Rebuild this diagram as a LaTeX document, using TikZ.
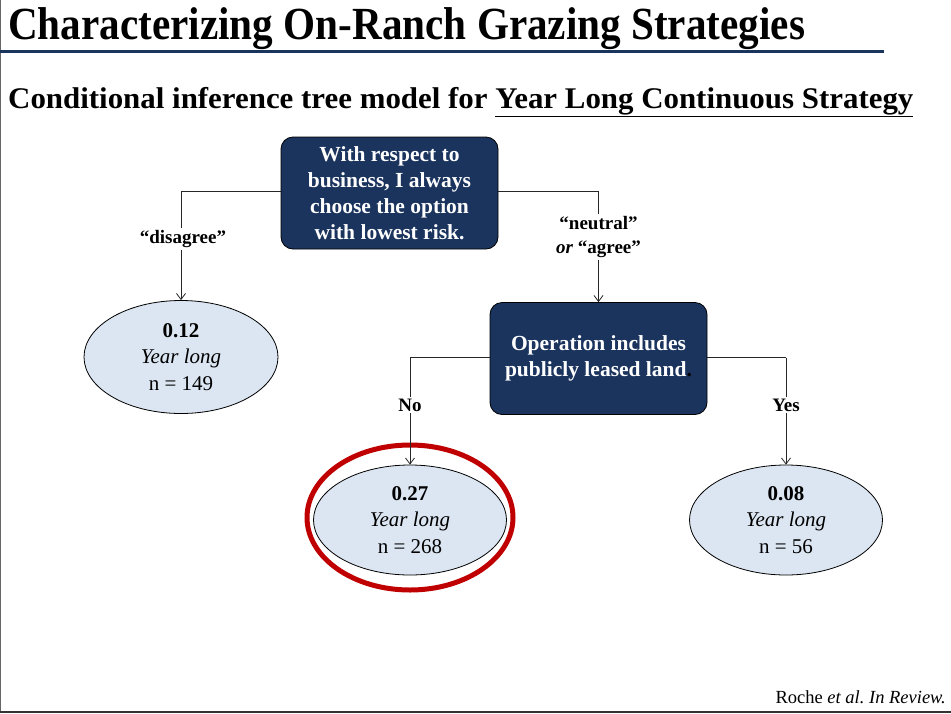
\documentclass[tikz,border=0pt]{standalone}
\usepackage{fontspec}
\setmainfont{Liberation Serif}
\newfontfamily\titlefont[FakeStretch=0.895]{Liberation Serif}
\newfontfamily\subfont[FakeStretch=1.03]{Liberation Serif}
\usetikzlibrary{arrows.meta,shapes.geometric}
\definecolor{navy}{RGB}{26,52,94}
\definecolor{leaf}{RGB}{220,230,242}
\definecolor{ringred}{RGB}{192,0,0}
\tikzset{
  qbox/.style={draw=black, line width=0.8pt, fill=navy, rounded corners=12pt, text=white, font=\bfseries\fontsize{21.5}{25.8}\selectfont, align=center, minimum width=217pt, minimum height=112pt, inner sep=0pt},
  leafnode/.style={draw=black, line width=0.8pt, fill=leaf, ellipse, minimum width=193pt, minimum height=110pt, inner sep=0pt, align=center, font=\fontsize{21}{26.5}\selectfont},
  conn/.style={line width=0.8pt, draw=black!85},
  arr/.style={conn, -{Straight Barb[length=6pt,width=9pt]}},
  lbl/.style={fill=white, font=\bfseries\fontsize{19}{24}\selectfont, align=center, inner sep=2pt}
}
\begin{document}
\begin{tikzpicture}[x=1pt,y=-1pt]
\useasboundingbox (0,0) rectangle (951,713);
\fill[white] (0,0) rectangle (951,713);
\draw[black!60, line width=2pt] (0,0) -- (0,713);
\draw[black!80, line width=2.5pt] (0,712) -- (951,712);
% title
\node[anchor=base west, inner sep=0pt, font=\titlefont\bfseries\fontsize{46}{50}\selectfont] (title) at (8,39) {Characterizing On-Ranch Grazing Strategies};
\draw[navy, line width=3pt] (0,51.5) -- (884,51.5);
\node[anchor=base west, inner sep=0pt, font=\subfont\bfseries\fontsize{30}{34}\selectfont] (sub) at (8,108) {Conditional inference tree model for \underline{Year Long Continuous Strategy}};
% nodes
\node[qbox] (q1) at (389.5,193) {With respect to\\business, I always\\choose the option\\with lowest risk.};
\node[qbox] (q2) at (598.5,358.5) {Operation includes\\publicly leased land{\color{black}.}};
\node[leafnode, minimum width=194pt, minimum height=113pt] (l1) at (181,357) {\textbf{0.12}\\\textit{Year long}\\n = 149};
\node[leafnode] (l2) at (410,520) {\textbf{0.27}\\\textit{Year long}\\n = 268};
\node[leafnode] (l3) at (786,520) {\textbf{0.08}\\\textit{Year long}\\n = 56};
\node[draw=ringred, line width=5pt, ellipse, minimum width=206pt, minimum height=145pt, inner sep=0pt] (ring) at (410,517.5) {};
% connectors
\coordinate (c1) at (181,191.5);
\coordinate (c2) at (598.5,191.5);
\coordinate (c3) at (410,357.5);
\coordinate (c4) at (786,357.5);
\draw[conn] (q1.west |- c1) -- (c1);
\draw[arr] (c1) -- (l1.north);
\draw[conn] (q1.east |- c2) -- (c2);
\draw[arr] (c2) -- (q2.north);
\draw[conn] (q2.west |- c3) -- (c3);
\draw[arr] (c3) -- (l2.north);
\draw[conn] (q2.east |- c4) -- (c4);
\draw[arr] (c4) -- (l3.north);
% labels
\node[lbl] (t1) at (183,239) {\textquotedblleft disagree\textquotedblright};
\node[lbl] (t2) at (598.5,237) {\textquotedblleft neutral\textquotedblright\\\textit{or} \textquotedblleft agree\textquotedblright};
\node[lbl] (t3) at (410,405) {No};
\node[lbl] (t4) at (786,405) {Yes};
% footer
\node[anchor=base east, inner sep=0pt, font=\fontsize{18.5}{20}\selectfont] (foot) at (946,703) {Roche \textit{et al.\ In Review.}};
\end{tikzpicture}
\end{document}
